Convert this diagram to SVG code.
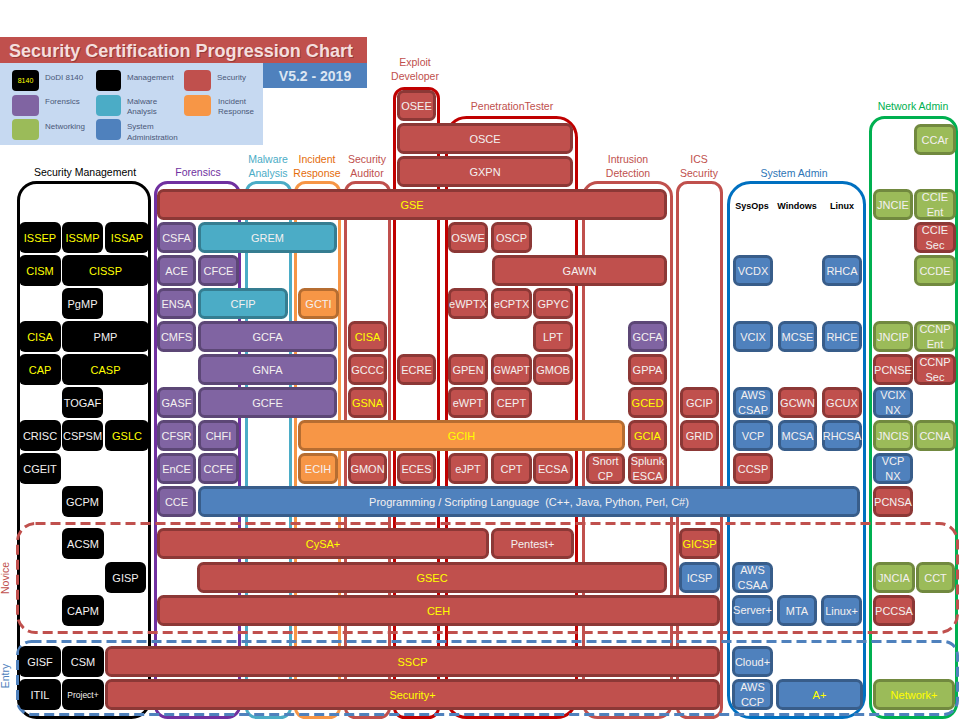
<svg xmlns="http://www.w3.org/2000/svg" width="964" height="725" viewBox="0 0 964 725">
<style>
.t{font-family:"Liberation Sans",Arial,sans-serif;font-size:11px;text-anchor:middle}
.w{fill:#f4f0f0}
.y{fill:#ffff00}
.sm{font-size:10px}
.xs{font-size:8.5px}
.sec{fill:#c0504d;stroke:#8c3836;stroke-width:3}
.for{fill:#8064a2;stroke:#5c4776;stroke-width:3}
.mal{fill:#4bacc6;stroke:#357d91;stroke-width:3}
.inc{fill:#f79646;stroke:#b66d31;stroke-width:3}
.sys{fill:#4f81bd;stroke:#385d8a;stroke-width:3}
.net{fill:#9bbb59;stroke:#71893f;stroke-width:3}
.mgt{fill:#000}
.col{fill:none;stroke-width:3}
.h{font-family:"Liberation Sans",Arial,sans-serif;font-size:10.5px;text-anchor:middle}
.hb{font-family:"Liberation Sans",Arial,sans-serif;font-size:9px;font-weight:bold;text-anchor:middle;fill:#000}
.lg{font-family:"Liberation Sans",Arial,sans-serif;font-size:8px;fill:#4a5878}
</style>
<rect width="964" height="725" fill="#fff"/>

<g id="header">
<rect x="0" y="37" width="367" height="26" fill="#c0504d"/>
<text x="10" y="58" font-family="Liberation Sans,Arial,sans-serif" font-size="18.5" font-weight="bold" fill="#7a2c2a" opacity="0.6" textLength="344" lengthAdjust="spacingAndGlyphs">Security Certification Progression Chart</text>
<text x="9" y="57" font-family="Liberation Sans,Arial,sans-serif" font-size="18.5" font-weight="bold" fill="#f4dedd" textLength="344" lengthAdjust="spacingAndGlyphs">Security Certification Progression Chart</text>
<rect x="0" y="63" width="263" height="82" fill="#c6d9f1"/>
<rect x="263" y="63" width="104" height="25" fill="#4f81bd"/>
<text x="315" y="81" font-family="Liberation Sans,Arial,sans-serif" font-size="14" font-weight="bold" fill="#dce6f2" text-anchor="middle">V5.2  -  2019</text>
</g>

<g id="legend">
<rect x="12" y="70" width="27" height="21" rx="4" fill="#000"/>
<text x="25.5" y="83" font-family="Liberation Sans,Arial,sans-serif" font-size="7" fill="#ffff00" text-anchor="middle">8140</text>
<text class="lg" x="45" y="80">DoDI 8140</text>
<rect x="96" y="70" width="25" height="21" rx="4" fill="#000"/>
<text class="lg" x="127" y="80">Management</text>
<rect x="184" y="70" width="27" height="21" rx="4" fill="#c0504d"/>
<text class="lg" x="217" y="80">Security</text>
<rect x="12" y="95" width="27" height="21" rx="4" fill="#8064a2"/>
<text class="lg" x="45" y="104">Forensics</text>
<rect x="96" y="95" width="25" height="21" rx="4" fill="#4bacc6"/>
<text class="lg" x="127" y="104">Malware</text>
<text class="lg" x="127" y="114">Analysis</text>
<rect x="184" y="95" width="27" height="21" rx="4" fill="#f79646"/>
<text class="lg" x="218" y="104">Incident</text>
<text class="lg" x="218" y="114">Response</text>
<rect x="12" y="119" width="27" height="21" rx="4" fill="#9bbb59"/>
<text class="lg" x="45" y="129">Networking</text>
<rect x="96" y="119" width="25" height="21" rx="4" fill="#4f81bd"/>
<text class="lg" x="127" y="129">System</text>
<text class="lg" x="127" y="140">Administration</text>
</g>

<g id="containers">
<rect class="col" x="18.5" y="182.5" width="131" height="535" rx="18" stroke="#000"/>
<rect class="col" x="155.5" y="182.5" width="84" height="535" rx="12" stroke="#7030a0"/>
<rect class="col" x="246.5" y="182.5" width="44" height="535" rx="10" stroke="#4bacc6"/>
<rect class="col" x="295.5" y="182.5" width="44" height="535" rx="10" stroke="#f79646"/>
<rect class="col" x="345.5" y="182.5" width="44" height="535" rx="10" stroke="#c0504d"/>
<rect class="col" x="394.5" y="88.5" width="44" height="629" rx="10" stroke="#c00000"/>
<rect class="col" x="446.5" y="117.5" width="130" height="600" rx="20" stroke="#c00000"/>
<rect class="col" x="583.5" y="182.5" width="88" height="535" rx="14" stroke="#c0504d"/>
<rect class="col" x="677.5" y="182.5" width="44" height="535" rx="10" stroke="#c0504d"/>
<rect class="col" x="728.5" y="182.5" width="136" height="535" rx="22" stroke="#0070c0"/>
<rect class="col" x="870.5" y="117.5" width="86" height="600" rx="14" stroke="#00b050"/>
<rect class="col" x="17.5" y="523.5" width="940" height="109" rx="18" stroke="#c0504d" stroke-dasharray="10 5"/>
<rect class="col" x="17.5" y="641.5" width="940" height="73" rx="14" stroke="#4f81bd" stroke-dasharray="10 5"/>
</g>

<g id="labels">
<text class="h" x="85" y="176" fill="#000">Security Management</text>
<text class="h" x="198" y="176" fill="#7030a0">Forensics</text>
<text class="h" x="268" y="163" fill="#4bacc6">Malware</text>
<text class="h" x="268" y="177" fill="#4bacc6">Analysis</text>
<text class="h" x="317" y="163" fill="#e46c0a">Incident</text>
<text class="h" x="317" y="177" fill="#e46c0a">Response</text>
<text class="h" x="367" y="163" fill="#c0504d">Security</text>
<text class="h" x="367" y="177" fill="#c0504d">Auditor</text>
<text class="h" x="415" y="66" fill="#c0504d">Exploit</text>
<text class="h" x="415" y="80" fill="#c0504d">Developer</text>
<text class="h" x="512" y="110" fill="#c0504d">PenetrationTester</text>
<text class="h" x="628" y="163" fill="#c0504d">Intrusion</text>
<text class="h" x="628" y="177" fill="#c0504d">Detection</text>
<text class="h" x="699" y="163" fill="#c0504d">ICS</text>
<text class="h" x="699" y="177" fill="#c0504d">Security</text>
<text class="h" x="794" y="177" fill="#2e75b6">System Admin</text>
<text class="hb" x="752" y="209">SysOps</text>
<text class="hb" x="797" y="209">Windows</text>
<text class="hb" x="842" y="209">Linux</text>
<text class="h" x="913" y="110" fill="#00b050">Network Admin</text>
<text class="h" x="9" y="578" fill="#c0504d" transform="rotate(-90 9 578)" font-size="11.5">Novice</text>
<text class="h" x="9" y="676" fill="#4f81bd" transform="rotate(-90 9 676)" font-size="11.5">Entry</text>
</g>

<g id="connectors"></g>

<g id="nodes">
<!-- Management -->
<g id="n-issep"><rect class="mgt" x="19" y="222" width="42" height="31" rx="6"/><text class="t y" x="40" y="241.5">ISSEP</text></g>
<g id="n-issmp"><rect class="mgt" x="62" y="222" width="41" height="31" rx="6"/><text class="t y" x="82.5" y="241.5">ISSMP</text></g>
<g id="n-issap"><rect class="mgt" x="105" y="222" width="44" height="31" rx="6"/><text class="t y" x="127" y="241.5">ISSAP</text></g>
<g id="n-cism"><rect class="mgt" x="19" y="255" width="42" height="31" rx="6"/><text class="t y" x="40" y="274.5">CISM</text></g>
<g id="n-cissp"><rect class="mgt" x="62" y="255" width="87" height="31" rx="6"/><text class="t y" x="105.5" y="274.5">CISSP</text></g>
<g id="n-pgmp"><rect class="mgt" x="62" y="288" width="41" height="31" rx="6"/><text class="t w" x="82.5" y="307.5">PgMP</text></g>
<g id="n-cisa-m"><rect class="mgt" x="19" y="321" width="42" height="31" rx="6"/><text class="t y" x="40" y="340.5">CISA</text></g>
<g id="n-pmp"><rect class="mgt" x="62" y="321" width="87" height="31" rx="6"/><text class="t w" x="105.5" y="340.5">PMP</text></g>
<g id="n-cap"><rect class="mgt" x="19" y="354" width="42" height="31" rx="6"/><text class="t y" x="40" y="373.5">CAP</text></g>
<g id="n-casp"><rect class="mgt" x="62" y="354" width="87" height="31" rx="6"/><text class="t y" x="105.5" y="373.5">CASP</text></g>
<g id="n-togaf"><rect class="mgt" x="62" y="387" width="41" height="31" rx="6"/><text class="t w" x="82.5" y="406.5">TOGAF</text></g>
<g id="n-crisc"><rect class="mgt" x="19" y="420" width="42" height="31" rx="6"/><text class="t w" x="40" y="439.5">CRISC</text></g>
<g id="n-cspsm"><rect class="mgt" x="62" y="420" width="41" height="31" rx="6"/><text class="t w" x="82.5" y="439.5">CSPSM</text></g>
<g id="n-gslc"><rect class="mgt" x="105" y="420" width="44" height="31" rx="6"/><text class="t y" x="127" y="439.5">GSLC</text></g>
<g id="n-cgeit"><rect class="mgt" x="19" y="453" width="42" height="31" rx="6"/><text class="t w" x="40" y="472.5">CGEIT</text></g>
<g id="n-gcpm"><rect class="mgt" x="62" y="486" width="41" height="31" rx="6"/><text class="t w" x="82.5" y="505.5">GCPM</text></g>
<g id="n-acsm"><rect class="mgt" x="62" y="528" width="42" height="31" rx="6"/><text class="t w" x="83" y="547.5">ACSM</text></g>
<g id="n-gisp"><rect class="mgt" x="105" y="562" width="41" height="31" rx="6"/><text class="t w" x="125.5" y="581.5">GISP</text></g>
<g id="n-capm"><rect class="mgt" x="62" y="595" width="42" height="31" rx="6"/><text class="t w" x="83" y="614.5">CAPM</text></g>
<g id="n-gisf"><rect class="mgt" x="19" y="646" width="42" height="31" rx="6"/><text class="t w" x="40" y="665.5">GISF</text></g>
<g id="n-csm"><rect class="mgt" x="62" y="646" width="42" height="31" rx="6"/><text class="t w" x="83" y="665.5">CSM</text></g>
<g id="n-itil"><rect class="mgt" x="19" y="679" width="42" height="31" rx="6"/><text class="t w" x="40" y="698.5">ITIL</text></g>
<g id="n-projectplus"><rect class="mgt" x="62" y="679" width="42" height="31" rx="6"/><text class="t w xs" x="83" y="698">Project+</text></g>

<!-- Security -->
<g id="n-osee"><rect class="sec" x="398.5" y="91.5" width="36" height="28" rx="5"/><text class="t w" x="416.5" y="109.5">OSEE</text></g>
<g id="n-osce"><rect class="sec" x="398.5" y="124.5" width="173" height="28" rx="5"/><text class="t w" x="485" y="142.5">OSCE</text></g>
<g id="n-gxpn"><rect class="sec" x="398.5" y="157.5" width="173" height="28" rx="5"/><text class="t w" x="485" y="175.5">GXPN</text></g>
<g id="n-gse"><rect class="sec" x="158.5" y="190.5" width="507" height="28" rx="5"/><text class="t y" x="412" y="208.5">GSE</text></g>
<g id="n-oswe"><rect class="sec" x="449.5" y="223.5" width="37" height="28" rx="5"/><text class="t w" x="468" y="241.5">OSWE</text></g>
<g id="n-oscp"><rect class="sec" x="492.5" y="223.5" width="38" height="28" rx="5"/><text class="t w" x="511.5" y="241.5">OSCP</text></g>
<g id="n-ccie-sec"><rect class="sec" x="915.5" y="223.5" width="39" height="28" rx="5"/><text class="t w" x="935" y="234">CCIE</text><text class="t w" x="935" y="249">Sec</text></g>
<g id="n-gawn"><rect class="sec" x="493.5" y="256.5" width="172" height="28" rx="5"/><text class="t w" x="579.5" y="274.5">GAWN</text></g>
<g id="n-ewptx"><rect class="sec" x="449.5" y="289.5" width="37" height="28" rx="5"/><text class="t w" x="468" y="307.5">eWPTX</text></g>
<g id="n-ecptx"><rect class="sec" x="492.5" y="289.5" width="38" height="28" rx="5"/><text class="t w" x="511.5" y="307.5">eCPTX</text></g>
<g id="n-gpyc"><rect class="sec" x="534.5" y="289.5" width="37" height="28" rx="5"/><text class="t w" x="553" y="307.5">GPYC</text></g>
<g id="n-cisa-a"><rect class="sec" x="349.5" y="322.5" width="36" height="28" rx="5"/><text class="t y" x="367.5" y="340.5">CISA</text></g>
<g id="n-lpt"><rect class="sec" x="534.5" y="322.5" width="37" height="28" rx="5"/><text class="t w" x="553" y="340.5">LPT</text></g>
<g id="n-gccc"><rect class="sec" x="349.5" y="355.5" width="36" height="28" rx="5"/><text class="t w" x="367.5" y="373.5">GCCC</text></g>
<g id="n-ecre"><rect class="sec" x="398.5" y="355.5" width="36" height="28" rx="5"/><text class="t w" x="416.5" y="373.5">ECRE</text></g>
<g id="n-gpen"><rect class="sec" x="449.5" y="355.5" width="37" height="28" rx="5"/><text class="t w" x="468" y="373.5">GPEN</text></g>
<g id="n-gwapt"><rect class="sec" x="492.5" y="355.5" width="38" height="28" rx="5"/><text class="t w sm" x="511.5" y="373.5">GWAPT</text></g>
<g id="n-gmob"><rect class="sec" x="534.5" y="355.5" width="37" height="28" rx="5"/><text class="t w" x="553" y="373.5">GMOB</text></g>
<g id="n-gppa"><rect class="sec" x="629.5" y="355.5" width="36" height="28" rx="5"/><text class="t w" x="647.5" y="373.5">GPPA</text></g>
<g id="n-pcnse"><rect class="sec" x="874.5" y="355.5" width="37" height="28" rx="5"/><text class="t w" x="893" y="373.5">PCNSE</text></g>
<g id="n-ccnp-sec"><rect class="sec" x="915.5" y="355.5" width="39" height="28" rx="5"/><text class="t w" x="935" y="366">CCNP</text><text class="t w" x="935" y="381">Sec</text></g>
<g id="n-gsna"><rect class="sec" x="349.5" y="388.5" width="36" height="28" rx="5"/><text class="t y" x="367.5" y="406.5">GSNA</text></g>
<g id="n-ewpt"><rect class="sec" x="449.5" y="388.5" width="37" height="28" rx="5"/><text class="t w" x="468" y="406.5">eWPT</text></g>
<g id="n-cept"><rect class="sec" x="492.5" y="388.5" width="38" height="28" rx="5"/><text class="t w" x="511.5" y="406.5">CEPT</text></g>
<g id="n-gced"><rect class="sec" x="629.5" y="388.5" width="36" height="28" rx="5"/><text class="t y" x="647.5" y="406.5">GCED</text></g>
<g id="n-gcip"><rect class="sec" x="681.5" y="388.5" width="36" height="28" rx="5"/><text class="t w" x="699.5" y="406.5">GCIP</text></g>
<g id="n-gcwn"><rect class="sec" x="779.5" y="388.5" width="36" height="28" rx="5"/><text class="t w" x="797.5" y="406.5">GCWN</text></g>
<g id="n-gcux"><rect class="sec" x="823.5" y="388.5" width="37" height="28" rx="5"/><text class="t w" x="842" y="406.5">GCUX</text></g>
<g id="n-gcia"><rect class="sec" x="629.5" y="421.5" width="36" height="28" rx="5"/><text class="t y" x="647.5" y="439.5">GCIA</text></g>
<g id="n-grid"><rect class="sec" x="681.5" y="421.5" width="36" height="28" rx="5"/><text class="t w" x="699.5" y="439.5">GRID</text></g>
<g id="n-gmon"><rect class="sec" x="349.5" y="454.5" width="36" height="28" rx="5"/><text class="t w" x="367.5" y="472.5">GMON</text></g>
<g id="n-eces"><rect class="sec" x="398.5" y="454.5" width="36" height="28" rx="5"/><text class="t w" x="416.5" y="472.5">ECES</text></g>
<g id="n-ejpt"><rect class="sec" x="449.5" y="454.5" width="37" height="28" rx="5"/><text class="t w" x="468" y="472.5">eJPT</text></g>
<g id="n-cpt"><rect class="sec" x="492.5" y="454.5" width="38" height="28" rx="5"/><text class="t w" x="511.5" y="472.5">CPT</text></g>
<g id="n-ecsa"><rect class="sec" x="534.5" y="454.5" width="37" height="28" rx="5"/><text class="t w" x="553" y="472.5">ECSA</text></g>
<g id="n-snort"><rect class="sec" x="587.5" y="454.5" width="36" height="28" rx="5"/><text class="t w" x="605.5" y="465">Snort</text><text class="t w" x="605.5" y="480">CP</text></g>
<g id="n-splunk"><rect class="sec" x="629.5" y="454.5" width="36" height="28" rx="5"/><text class="t w" x="647.5" y="465">Splunk</text><text class="t w" x="647.5" y="480">ESCA</text></g>
<g id="n-ccsp"><rect class="sec" x="734.5" y="454.5" width="37" height="28" rx="5"/><text class="t w" x="753" y="472.5">CCSP</text></g>
<g id="n-pcnsa"><rect class="sec" x="874.5" y="487.5" width="37" height="28" rx="5"/><text class="t w" x="893" y="505.5">PCNSA</text></g>
<g id="n-cysa"><rect class="sec" x="158.5" y="529.5" width="329" height="28" rx="5"/><text class="t y" x="323" y="547.5">CySA+</text></g>
<g id="n-pentest"><rect class="sec" x="492.5" y="529.5" width="80" height="28" rx="5"/><text class="t w" x="532.5" y="547.5">Pentest+</text></g>
<g id="n-gicsp"><rect class="sec" x="680.5" y="529.5" width="38" height="28" rx="5"/><text class="t y" x="699.5" y="547.5">GICSP</text></g>
<g id="n-gsec"><rect class="sec" x="198.5" y="563.5" width="467" height="28" rx="5"/><text class="t y" x="432" y="581.5">GSEC</text></g>
<g id="n-ceh"><rect class="sec" x="158.5" y="596.5" width="560" height="28" rx="5"/><text class="t y" x="438.5" y="614.5">CEH</text></g>
<g id="n-pccsa"><rect class="sec" x="874.5" y="596.5" width="39" height="28" rx="5"/><text class="t w" x="894" y="614.5">PCCSA</text></g>
<g id="n-sscp"><rect class="sec" x="106.5" y="647.5" width="612" height="28" rx="5"/><text class="t y" x="412.5" y="665.5">SSCP</text></g>
<g id="n-secplus"><rect class="sec" x="106.5" y="680.5" width="612" height="28" rx="5"/><text class="t y" x="412.5" y="698.5">Security+</text></g>

<!-- Forensics -->
<g id="n-csfa"><rect class="for" x="158.5" y="223.5" width="36" height="28" rx="5"/><text class="t w" x="176.5" y="241.5">CSFA</text></g>
<g id="n-ace"><rect class="for" x="158.5" y="256.5" width="36" height="28" rx="5"/><text class="t w" x="176.5" y="274.5">ACE</text></g>
<g id="n-cfce"><rect class="for" x="199.5" y="256.5" width="38" height="28" rx="5"/><text class="t w" x="218.5" y="274.5">CFCE</text></g>
<g id="n-ensa"><rect class="for" x="158.5" y="289.5" width="36" height="28" rx="5"/><text class="t w" x="176.5" y="307.5">ENSA</text></g>
<g id="n-cmfs"><rect class="for" x="158.5" y="322.5" width="36" height="28" rx="5"/><text class="t w" x="176.5" y="340.5">CMFS</text></g>
<g id="n-gcfa"><rect class="for" x="199.5" y="322.5" width="136" height="28" rx="5"/><text class="t w" x="267.5" y="340.5">GCFA</text></g>
<g id="n-gcfa-id"><rect class="for" x="629.5" y="322.5" width="36" height="28" rx="5"/><text class="t w" x="647.5" y="340.5">GCFA</text></g>
<g id="n-gnfa"><rect class="for" x="199.5" y="355.5" width="136" height="28" rx="5"/><text class="t w" x="267.5" y="373.5">GNFA</text></g>
<g id="n-gasf"><rect class="for" x="158.5" y="388.5" width="36" height="28" rx="5"/><text class="t w" x="176.5" y="406.5">GASF</text></g>
<g id="n-gcfe"><rect class="for" x="199.5" y="388.5" width="136" height="28" rx="5"/><text class="t w" x="267.5" y="406.5">GCFE</text></g>
<g id="n-cfsr"><rect class="for" x="158.5" y="421.5" width="36" height="28" rx="5"/><text class="t w" x="176.5" y="439.5">CFSR</text></g>
<g id="n-chfi"><rect class="for" x="199.5" y="421.5" width="38" height="28" rx="5"/><text class="t w" x="218.5" y="439.5">CHFI</text></g>
<g id="n-ence"><rect class="for" x="158.5" y="454.5" width="36" height="28" rx="5"/><text class="t w" x="176.5" y="472.5">EnCE</text></g>
<g id="n-ccfe"><rect class="for" x="199.5" y="454.5" width="38" height="28" rx="5"/><text class="t w" x="218.5" y="472.5">CCFE</text></g>
<g id="n-cce"><rect class="for" x="158.5" y="487.5" width="36" height="28" rx="5"/><text class="t w" x="176.5" y="505.5">CCE</text></g>

<!-- Malware -->
<g id="n-grem"><rect class="mal" x="199.5" y="223.5" width="136" height="28" rx="5"/><text class="t w" x="267.5" y="241.5">GREM</text></g>
<g id="n-cfip"><rect class="mal" x="199.5" y="289.5" width="87" height="28" rx="5"/><text class="t w" x="243" y="307.5">CFIP</text></g>

<!-- Incident -->
<g id="n-gcti"><rect class="inc" x="299.5" y="289.5" width="38" height="28" rx="5"/><text class="t w" x="318.5" y="307.5">GCTI</text></g>
<g id="n-gcih"><rect class="inc" x="299.5" y="421.5" width="324" height="28" rx="5"/><text class="t y" x="461.5" y="439.5">GCIH</text></g>
<g id="n-ecih"><rect class="inc" x="299.5" y="454.5" width="37" height="28" rx="5"/><text class="t w" x="318" y="472.5">ECIH</text></g>

<!-- System admin -->
<g id="n-vcdx"><rect class="sys" x="734.5" y="256.5" width="37" height="28" rx="5"/><text class="t w" x="753" y="274.5">VCDX</text></g>
<g id="n-rhca"><rect class="sys" x="823.5" y="256.5" width="37" height="28" rx="5"/><text class="t w" x="842" y="274.5">RHCA</text></g>
<g id="n-vcix"><rect class="sys" x="734.5" y="322.5" width="37" height="28" rx="5"/><text class="t w" x="753" y="340.5">VCIX</text></g>
<g id="n-mcse"><rect class="sys" x="779.5" y="322.5" width="36" height="28" rx="5"/><text class="t w" x="797.5" y="340.5">MCSE</text></g>
<g id="n-rhce"><rect class="sys" x="823.5" y="322.5" width="37" height="28" rx="5"/><text class="t w" x="842" y="340.5">RHCE</text></g>
<g id="n-aws-csap"><rect class="sys" x="734.5" y="388.5" width="37" height="28" rx="5"/><text class="t w" x="753" y="399">AWS</text><text class="t w" x="753" y="414">CSAP</text></g>
<g id="n-vcix-nx"><rect class="sys" x="874.5" y="388.5" width="37" height="28" rx="5"/><text class="t w" x="893" y="399">VCIX</text><text class="t w" x="893" y="414">NX</text></g>
<g id="n-vcp"><rect class="sys" x="734.5" y="421.5" width="37" height="28" rx="5"/><text class="t w" x="753" y="439.5">VCP</text></g>
<g id="n-mcsa"><rect class="sys" x="779.5" y="421.5" width="36" height="28" rx="5"/><text class="t w" x="797.5" y="439.5">MCSA</text></g>
<g id="n-rhcsa"><rect class="sys" x="823.5" y="421.5" width="37" height="28" rx="5"/><text class="t w" x="842" y="439.5">RHCSA</text></g>
<g id="n-vcp-nx"><rect class="sys" x="874.5" y="454.5" width="37" height="28" rx="5"/><text class="t w" x="893" y="465">VCP</text><text class="t w" x="893" y="480">NX</text></g>
<g id="n-programming"><rect class="sys" x="199.5" y="487.5" width="659" height="28" rx="5"/><text class="t w" x="529" y="505.5" font-size="11.8">Programming / Scripting Language&#160; (C++, Java, Python, Perl, C#)</text></g>
<g id="n-icsp"><rect class="sys" x="680.5" y="563.5" width="38" height="28" rx="5"/><text class="t w" x="699.5" y="581.5">ICSP</text></g>
<g id="n-aws-csaa"><rect class="sys" x="733.5" y="563.5" width="38" height="28" rx="5"/><text class="t w" x="752.5" y="574">AWS</text><text class="t w" x="752.5" y="589">CSAA</text></g>
<g id="n-serverplus"><rect class="sys" x="733.5" y="596.5" width="38" height="28" rx="5"/><text class="t w" x="752.5" y="614" font-size="9">Server+</text></g>
<g id="n-mta"><rect class="sys" x="778.5" y="596.5" width="37" height="28" rx="5"/><text class="t w" x="797" y="614.5">MTA</text></g>
<g id="n-linuxplus"><rect class="sys" x="822.5" y="596.5" width="38" height="28" rx="5"/><text class="t w" x="841.5" y="614.5">Linux+</text></g>
<g id="n-cloudplus"><rect class="sys" x="733.5" y="647.5" width="38" height="28" rx="5"/><text class="t w" x="752.5" y="665.5">Cloud+</text></g>
<g id="n-aws-ccp"><rect class="sys" x="733.5" y="680.5" width="38" height="28" rx="5"/><text class="t w" x="752.5" y="691">AWS</text><text class="t w" x="752.5" y="706">CCP</text></g>
<g id="n-aplus"><rect class="sys" x="777.5" y="680.5" width="84" height="28" rx="5"/><text class="t y" x="819.5" y="698.5">A+</text></g>

<!-- Networking -->
<g id="n-ccar"><rect class="net" x="915.5" y="125.5" width="39" height="28" rx="5"/><text class="t w" x="935" y="143.5">CCAr</text></g>
<g id="n-jncie"><rect class="net" x="874.5" y="190.5" width="37" height="28" rx="5"/><text class="t w" x="893" y="208.5">JNCIE</text></g>
<g id="n-ccie-ent"><rect class="net" x="915.5" y="190.5" width="39" height="28" rx="5"/><text class="t w" x="935" y="201">CCIE</text><text class="t w" x="935" y="216">Ent</text></g>
<g id="n-ccde"><rect class="net" x="915.5" y="256.5" width="39" height="28" rx="5"/><text class="t w" x="935" y="274.5">CCDE</text></g>
<g id="n-jncip"><rect class="net" x="874.5" y="322.5" width="37" height="28" rx="5"/><text class="t w" x="893" y="340.5">JNCIP</text></g>
<g id="n-ccnp-ent"><rect class="net" x="915.5" y="322.5" width="39" height="28" rx="5"/><text class="t w" x="935" y="333">CCNP</text><text class="t w" x="935" y="348">Ent</text></g>
<g id="n-jncis"><rect class="net" x="874.5" y="421.5" width="37" height="28" rx="5"/><text class="t w" x="893" y="439.5">JNCIS</text></g>
<g id="n-ccna"><rect class="net" x="915.5" y="421.5" width="39" height="28" rx="5"/><text class="t w" x="935" y="439.5">CCNA</text></g>
<g id="n-jncia"><rect class="net" x="874.5" y="563.5" width="39" height="28" rx="5"/><text class="t w" x="894" y="581.5">JNCIA</text></g>
<g id="n-cct"><rect class="net" x="917.5" y="563.5" width="36" height="28" rx="5"/><text class="t w" x="935.5" y="581.5">CCT</text></g>
<g id="n-networkplus"><rect class="net" x="874.5" y="680.5" width="79" height="28" rx="5"/><text class="t y" x="914" y="698.5">Network+</text></g>
</g>
</svg>
